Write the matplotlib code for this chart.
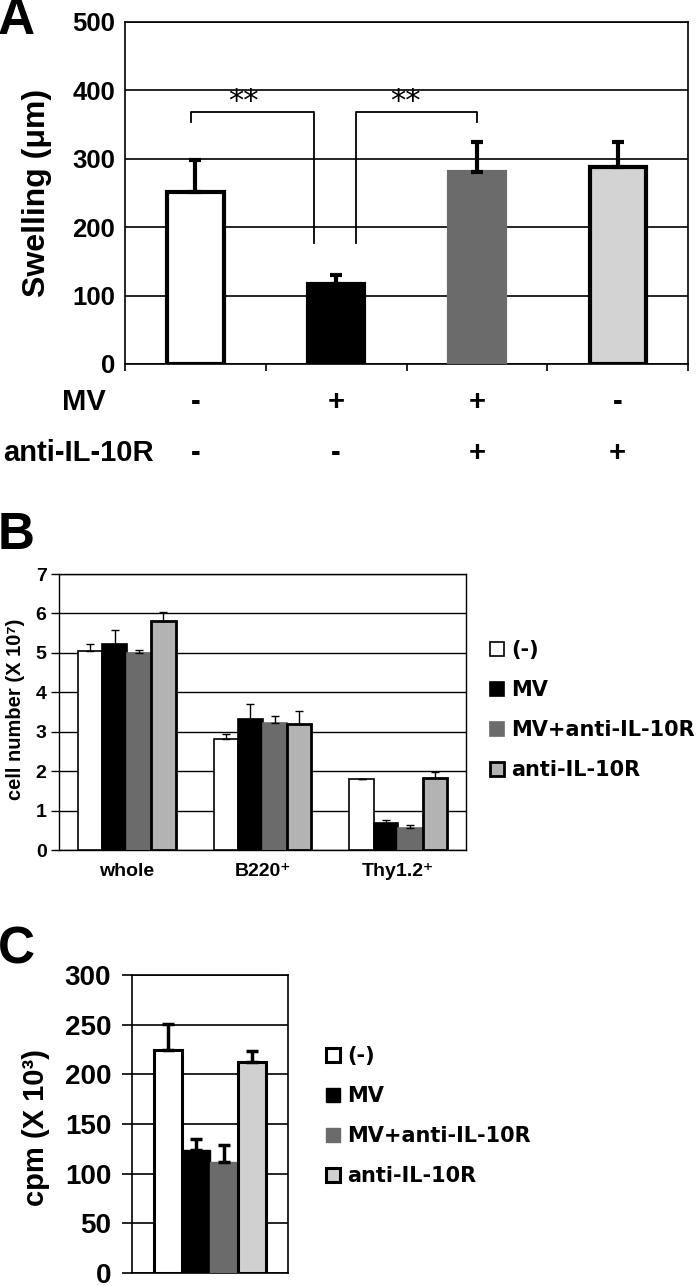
import numpy as np
import matplotlib
matplotlib.use("Agg")
from matplotlib import pyplot as plt
from matplotlib import transforms

# panel A: footpad swelling
a_mv = ['-', '+', '+', '-']
a_ab = ['-', '-', '+', '+']
a_vals = [251, 117, 280, 288]
a_err = [47, 13, 45, 37]

# panel B: cell numbers (x 10^7)
b_groups = ['whole', 'B220\u207a', 'Thy1.2\u207a']
b_neg = [5.05, 2.81, 1.79]
b_neg_err = [0.18, 0.14, 0.0]
b_mv = [5.23, 3.32, 0.68]
b_mv_err = [0.36, 0.39, 0.08]
b_mvab = [5.00, 3.23, 0.57]
b_mvab_err = [0.08, 0.16, 0.06]
b_ab = [5.81, 3.19, 1.83]
b_ab_err = [0.24, 0.33, 0.15]

# panel C: proliferation cpm (x 10^3)
c_vals = [225, 124, 112, 212]
c_err = [26, 11, 17, 12]

legend_labels = ['(-)', 'MV', 'MV+anti-IL-10R', 'anti-IL-10R']

ARL = ['Liberation Sans', 'DejaVu Sans']
NF = dict(family=ARL, weight='bold')
LEG = {'family': 'DejaVu Sans', 'weight': 'bold', 'size': 15}


def style_ticks(labels, size):
    for lab in labels:
        lab.set_family(ARL)
        lab.set_fontweight('bold')
        lab.set_fontsize(size)


fig = plt.figure(figsize=(7, 12.86), dpi=100)

# ---------------- A ----------------
ax = fig.add_axes([0.1786, 0.7170, 0.8043, 0.2659])
xa = np.arange(4)
a_fill = ['white', 'black', '#6b6b6b', '#d3d3d3']
a_edge = ['black', 'black', '#6b6b6b', 'black']
ax.bar(xa, a_vals, 0.4, color=a_fill, edgecolor=a_edge, linewidth=3, zorder=3)
ax.errorbar(xa, a_vals, yerr=[np.zeros(4), a_err], fmt='none', ecolor='black',
            elinewidth=3, capsize=4, capthick=3, zorder=4)
ax.set_xlim(-0.5, 3.5)
ax.set_ylim(0, 500)
ax.set_yticks(np.arange(0, 501, 100))
ax.yaxis.grid(True, color='black', linewidth=1.2)
ax.set_axisbelow(True)
ax.set_xticks([-0.5, 0.5, 1.5, 2.5, 3.5])
ax.set_xticklabels([])
ax.tick_params(axis='x', direction='out', length=5, width=1.2)
ax.tick_params(axis='y', length=0, pad=7)
style_ticks(ax.get_yticklabels(), 18.5)
for s in ax.spines.values():
    s.set_linewidth(1.2)
ax.set_ylabel('Swelling (\u03bcm)', fontsize=23, **NF)
ax.yaxis.set_label_coords(-0.130, 0.5)

# significance brackets
ax.plot([-0.03, -0.03, 0.84, 0.84], [354, 369, 369, 177], color='black', lw=1.3)
ax.plot([1.14, 1.14, 2.0, 2.0], [177, 369, 369, 354], color='black', lw=1.3)
ax.text(0.34, 384, '**', ha='center', va='center', fontsize=22)
ax.text(1.49, 384, '**', ha='center', va='center', fontsize=22)

# treatment rows
tr = transforms.blended_transform_factory(ax.transData, fig.transFigure)
for i in range(4):
    ax.text(xa[i], 1 - 402 / 1286, a_mv[i], transform=tr, ha='center', va='center',
            fontsize=21, clip_on=False, **NF)
    ax.text(xa[i], 1 - 453 / 1286, a_ab[i], transform=tr, ha='center', va='center',
            fontsize=21, clip_on=False, **NF)
fig.text(62 / 700, 1 - 402 / 1286, 'MV', ha='left', va='center', fontsize=21, **NF)
fig.text(3 / 700, 1 - 453 / 1286, 'anti-IL-10R', ha='left', va='center', fontsize=21, **NF)

# ---------------- B ----------------
bx = fig.add_axes([0.0843, 0.3390, 0.5814, 0.2146])
xb = np.arange(3)
w = 0.18
b_series = [(b_neg, b_neg_err, 'white', 'black', 1.2),
            (b_mv, b_mv_err, 'black', 'black', 1.2),
            (b_mvab, b_mvab_err, '#6b6b6b', '#6b6b6b', 1.2),
            (b_ab, b_ab_err, '#b3b3b3', 'black', 2.0)]
b_handles = []
for k, (vals, err, fc, ec, lw) in enumerate(b_series):
    pos = xb + (k - 1.5) * w
    h = bx.bar(pos, vals, w, color=fc, edgecolor=ec, linewidth=lw, zorder=3, label=legend_labels[k])
    bx.errorbar(pos, vals, yerr=[np.zeros(3), err], fmt='none', ecolor='black',
                elinewidth=1.0, capsize=3, capthick=1.0, zorder=4)
    b_handles.append(h)
bx.set_xlim(-0.5, 2.5)
bx.set_ylim(0, 7)
bx.set_yticks(np.arange(0, 8, 1))
bx.yaxis.grid(True, color='black', linewidth=1.0)
bx.set_axisbelow(True)
bx.set_xticks(xb)
bx.set_xticklabels(b_groups)
bx.tick_params(axis='x', length=0, pad=9)
bx.tick_params(axis='y', direction='out', length=6, width=1.0, pad=3)
style_ticks(bx.get_yticklabels(), 14)
style_ticks(bx.get_xticklabels(), 14)
for s in bx.spines.values():
    s.set_linewidth(1.0)
bx.set_ylabel('cell number (X 10\u2077)', fontsize=14.5, **NF)
bx.yaxis.set_label_coords(-0.0835, 0.51)
bx.legend(handles=b_handles, loc='center left', bbox_to_anchor=(480 / 700, 1 - 710 / 1286),
          bbox_transform=fig.transFigure, frameon=False, handlelength=0.65, handleheight=0.65,
          handletextpad=0.35, labelspacing=0.96, borderpad=0, prop=LEG)

# ---------------- C ----------------
cx = fig.add_axes([0.1886, 0.0101, 0.2229, 0.2317])
c_fill = ['white', 'black', '#6b6b6b', '#d0d0d0']
c_edge = ['black', 'black', '#6b6b6b', 'black']
c_lw = [2.2, 1.0, 1.0, 2.2]
c_handles = []
for k in range(4):
    pos = (k - 1.5) * w
    h = cx.bar([pos], [c_vals[k]], w, color=c_fill[k], edgecolor=c_edge[k], linewidth=c_lw[k],
               zorder=3, label=legend_labels[k])
    cx.errorbar([pos], [c_vals[k]], yerr=[[0], [c_err[k]]], fmt='none', ecolor='black',
                elinewidth=2.5, capsize=4, capthick=2.5, zorder=4)
    c_handles.append(h)
cx.set_xlim(-0.5, 0.5)
cx.set_ylim(0, 300)
cx.set_yticks(np.arange(0, 301, 50))
cx.yaxis.grid(True, color='black', linewidth=1.2)
cx.set_axisbelow(True)
cx.set_xticks([])
cx.tick_params(axis='y', direction='out', length=7, width=1.2, pad=8)
style_ticks(cx.get_yticklabels(), 20)
for s in cx.spines.values():
    s.set_linewidth(1.2)
cx.set_ylabel('cpm (X 10\u00b3)', fontsize=21, **NF)
cx.yaxis.set_label_coords(-0.526, 0.49)
cx.legend(handles=c_handles, loc='center left', bbox_to_anchor=(316 / 700, 1 - 1116 / 1286),
          bbox_transform=fig.transFigure, frameon=False, handlelength=0.65, handleheight=0.65,
          handletextpad=0.35, labelspacing=0.96, borderpad=0, prop=LEG)

# panel letters
fig.text(-0.003, 1 - 21 / 1286, 'A', ha='left', va='center', family=ARL, fontsize=37, fontweight='bold')
fig.text(-0.003, 1 - 535 / 1286, 'B', ha='left', va='center', family=ARL, fontsize=37, fontweight='bold')
fig.text(-0.003, 1 - 950 / 1286, 'C', ha='left', va='center', family=ARL, fontsize=37, fontweight='bold')

fig.savefig("out.png", dpi=100)
